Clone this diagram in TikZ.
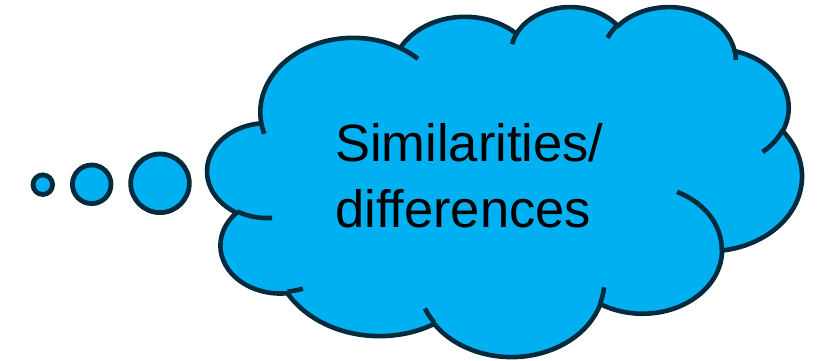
\documentclass[tikz,border=0pt]{standalone}
\usepackage{fontspec}
\setmainfont{Liberation Sans}
\definecolor{cloudfill}{HTML}{00B0F0}
\definecolor{cloudline}{HTML}{022B3D}
\tikzset{
  ooarc/.code n args={4}{%
    \pgfmathsetmacro\oos{atan2((#1)*sin(#3),(#2)*cos(#3))}%
    \pgfmathsetmacro\ood{mod(atan2((#1)*sin((#3)+(#4)),(#2)*cos((#3)+(#4)))-\oos+720,360)}%
    \edef\oonext{\noexpand\pgfkeysalso{x radius=#1,y radius=#2,start angle=\oos,delta angle=\ood}}%
    \oonext},
  cloudbody/.style={fill=cloudfill, draw=cloudline, line width=4.6pt, line join=round},
  cloudtick/.style={draw=cloudline, line width=4.6pt},
  bubble/.style={circle, fill=cloudfill, draw=cloudline, line width=4.8pt, inner sep=0pt},
  cloudtext/.style={font=\fontsize{52.5}{66}\selectfont, anchor=base west, inner sep=0pt, text=black}
}
\begin{document}
\begin{tikzpicture}[x=1pt,y=1pt]
\begin{scope}[yscale=-1]
\path[use as bounding box] (0,0) rectangle (821,361);
% thought bubbles
\node[bubble, minimum size=19.6pt] (b1) at (42.8,184.7) {};
\node[bubble, minimum size=38.6pt] (b2) at (91.7,184.3) {};
\node[bubble, minimum size=58.6pt] (b3) at (160,183.3) {};
% cloud (PowerPoint cloud geometry, 1/100 of 43200 units)
\begin{scope}[shift={(207.5,5.9)}, xscale=1.3757, yscale=0.80995]
\path[cloudbody] (39.00,143.70)
  arc[ooarc={67.53}{91.90}{-190.48748}{123.78053}]
  arc[ooarc={53.33}{72.67}{-144.10238}{89.94523}]
  arc[ooarc={43.65}{59.45}{-145.80792}{99.72302}]
  arc[ooarc={48.57}{65.95}{-130.98607}{117.24173}]
  arc[ooarc={53.33}{72.73}{-78.70888}{109.02692}]
  arc[ooarc={67.75}{92.20}{-46.26725}{130.269}]
  arc[ooarc={57.85}{78.67}{0.62502}{114.03333}]
  arc[ooarc={67.52}{92.15}{22.4516}{115.17255}]
  arc[ooarc={77.20}{105.43}{66.24263}{75.71102}]
  arc[ooarc={43.60}{59.18}{-274.94208}{146.73557}]
  arc[ooarc={43.45}{59.45}{-246.8285}{152.51885}]
  -- cycle;
\path[cloudtick]
  (46.93,261.77) arc[ooarc={43.45}{59.45}{86.742}{26.4295}]
  (69.28,348.99) arc[ooarc={43.60}{59.18}{73.61047}{11.44747}]
  (164.78,390.90) arc[ooarc={67.52}{92.15}{137.62415}{14.0811}]
  (288.27,347.51) arc[ooarc={67.52}{92.15}{6.45327}{15.99835}]
  (341.29,229.54) arc[ooarc={57.85}{78.67}{-70.29235}{70.91737}]
  (417.98,153.54) arc[ooarc={53.33}{72.73}{30.31803}{27.7515}]
  (383.24,54.26) arc[ooarc={48.57}{65.95}{-13.74433}{14.85723}]
  (290.78,39.52) arc[ooarc={48.57}{65.95}{-149.18145}{18.19537}]
  (221.41,47.20) arc[ooarc={43.65}{59.45}{-163.49427}{17.68635}]
  (140.00,51.92) arc[ooarc={67.53}{91.90}{-66.70695}{12.31935}]
  (41.27,157.89) arc[ooarc={67.53}{91.90}{157.65435}{11.85817}];
\end{scope}
% text
\node[cloudtext] (txt1) at (335,161) {Similarities/};
\node[cloudtext] (txt2) at (335,227.5) {differences};
\end{scope}
\end{tikzpicture}
\end{document}
